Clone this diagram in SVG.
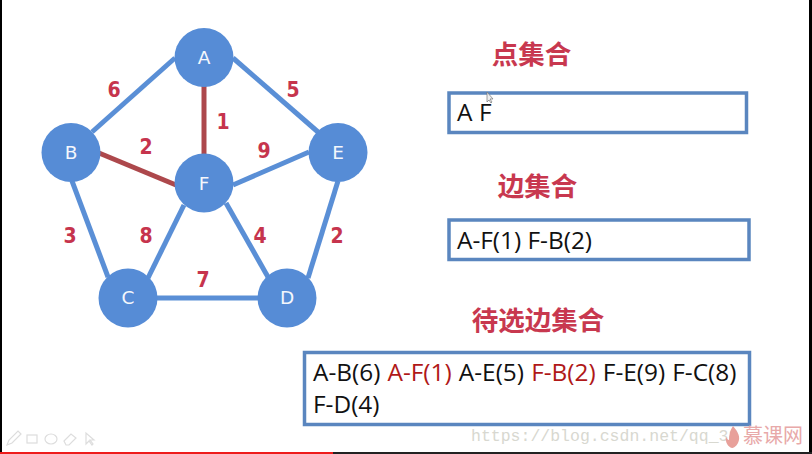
<svg xmlns="http://www.w3.org/2000/svg" width="812" height="454" viewBox="0 0 812 454">
<style>
.e{stroke:#5a8fd6;stroke-width:5;fill:none}
.h{stroke:#ad484c;stroke-width:5;fill:none}
.n{fill:#568cd6}
.l{font:18.500px "DejaVu Sans",sans-serif;fill:#f4f7fc;text-anchor:middle}
.w{font-family:"DejaVu Sans",sans-serif;font-weight:bold;font-size:21px;font-stretch:condensed;fill:#c6344d;text-anchor:middle}
.t{font:bold 26.500px "Noto Sans CJK SC","Liberation Sans",sans-serif;fill:#c8384f;text-anchor:middle}
.b{fill:#fff;stroke:#5a86bf;stroke-width:3.500}
.x{font:24.400px "Open Sans","Liberation Sans",sans-serif;fill:#111}
.r{fill:#b01818}
</style>
<rect width="812" height="454" fill="#fff"/>
<g id="connectors">
<line class="e" x1="175" y1="58" x2="92" y2="132"/>
<line class="e" x1="233" y1="58" x2="318" y2="132"/>
<line class="e" x1="72" y1="181" x2="108" y2="277"/>
<line class="e" x1="338" y1="181" x2="308" y2="278"/>
<line class="e" x1="128" y1="298" x2="287" y2="298"/>
<line class="e" x1="233" y1="185" x2="309" y2="152"/>
<line class="e" x1="184" y1="205" x2="148" y2="278"/>
<line class="e" x1="226" y1="203" x2="268" y2="277"/>
<line class="h" x1="204" y1="86" x2="204" y2="155"/>
<line class="h" x1="99" y1="153" x2="176" y2="185"/>
</g>
<g id="edge-labels">
<text class="w" x="114" y="97">6</text>
<text class="w" x="293" y="97">5</text>
<text class="w" x="223" y="129">1</text>
<text class="w" x="146" y="154">2</text>
<text class="w" x="264" y="158">9</text>
<text class="w" x="70" y="243">3</text>
<text class="w" x="146" y="243">8</text>
<text class="w" x="260" y="243">4</text>
<text class="w" x="337" y="243">2</text>
<text class="w" x="203" y="287">7</text>
</g>
<g id="node-A"><circle class="n" cx="204" cy="57.500" r="29.500"/><text class="l" x="204" y="64">A</text></g>
<g id="node-B"><circle class="n" cx="71" cy="152.500" r="29.500"/><text class="l" x="71" y="159">B</text></g>
<g id="node-E"><circle class="n" cx="338" cy="152.500" r="29.500"/><text class="l" x="338" y="159">E</text></g>
<g id="node-F"><circle class="n" cx="204" cy="183" r="29.500"/><text class="l" x="204" y="190">F</text></g>
<g id="node-C"><circle class="n" cx="128" cy="298" r="29.500"/><text class="l" x="128" y="304">C</text></g>
<g id="node-D"><circle class="n" cx="287" cy="298" r="29.500"/><text class="l" x="287" y="304">D</text></g>
<g id="vertex-set">
<text class="t" x="531.500" y="64">点集合</text>
<rect class="b" x="449" y="93" width="297.500" height="39.500"/>
<text class="x" x="457" y="121">A<tspan x="479">F</tspan></text>
</g>
<g id="edge-set">
<text class="t" x="537.500" y="196">边集合</text>
<rect class="b" x="449" y="220" width="300" height="39.500"/>
<text class="x" x="457" y="249">A-F(1) F-B(2)</text>
</g>
<g id="candidate-set">
<text class="t" x="538" y="330">待选边集合</text>
<rect class="b" x="304.500" y="352.500" width="445" height="72"/>
<text class="x" x="313" y="381" word-spacing="0.800">A-B(6) <tspan class="r">A-F(1)</tspan> A-E(5) <tspan class="r">F-B(2)</tspan> F-E(9) F-C(8)</text>
<text class="x" x="313" y="413">F-D(4)</text>
</g>
<g id="chrome">
<rect x="0" y="0" width="2" height="454" fill="#000"/>
<rect x="809" y="0" width="3" height="454" fill="#000"/>
<rect x="0" y="452" width="812" height="2" fill="#222"/>
<rect x="0" y="452" width="333" height="2" fill="#ee1c1c"/>
<path d="M487 92v10l2-2 2 3 1-1-2-3h3z" fill="#eee" stroke="#777" stroke-width=".7"/>
<g fill="none" stroke="#ddd" stroke-width="1.200">
<path d="M7 445l2-5 9-9 3 3-9 9z"/>
<rect x="27" y="435" width="10" height="8"/>
<ellipse cx="51" cy="439" rx="6" ry="5"/>
<path d="M64 441l7-7 5 4-7 7h-3z"/>
<path d="M86 433v11l3-3 3 4 1-1-3-4h4z"/>
</g>
<text x="471" y="441" font-family="Liberation Mono,monospace" font-size="16.500" fill="#d8d8d0">https://blog.csdn.net/qq_38</text>
<text x="743" y="443" font-family="Noto Sans CJK SC,sans-serif" font-size="20" fill="#e8a9a9">慕课网</text>
<path d="M733 426c5 6 8 11 5 17-2 4-5 5-6 5-4-1-7-6-6-11 1 2 2 3 3 3 0-5 1-10 4-14z" fill="#e8a09a"/>
</g>
</svg>
